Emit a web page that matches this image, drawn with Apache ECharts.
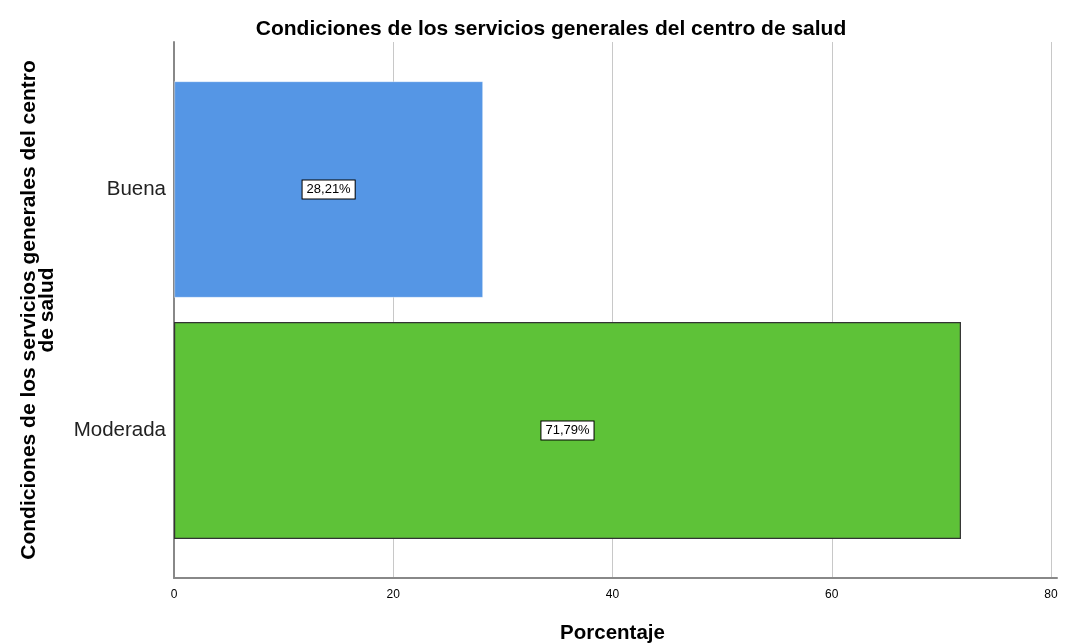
<!DOCTYPE html>
<html><head><meta charset="utf-8">
<script src="https://cdn.jsdelivr.net/npm/echarts@6/dist/echarts.min.js"></script>
<style>html,body{margin:0;padding:0;background:#fff}#c{width:1086px;height:644px}</style>
</head><body><div id="c"></div>
<script>
const categories = ['Buena', 'Moderada'];
const values = [28.21, 71.79];
const barColors = ['#5596e5', '#5ec238'];
const xTicks = [0, 20, 40, 60, 80];

const chart = echarts.init(document.getElementById('c'));
const font = 'Liberation Sans, Arial, sans-serif';
chart.setOption({
  animation: false,
  title: {
    text: 'Condiciones de los servicios generales del centro de salud',
    left: 546, top: 14, textAlign: 'center',
    textStyle: {fontFamily: font, fontSize: 21, fontWeight: 'bold', color: '#000'}
  },
  grid: [
    {left: 174, right: 29, top: 42, bottom: 66, outerBoundsMode: 'none', containLabel: false},
    {left: 174, right: 29, top: 69, bottom: 93, outerBoundsMode: 'none', containLabel: false},
    {left: 174, right: 35, top: 42, bottom: 66, outerBoundsMode: 'none', containLabel: false}
  ],
  xAxis: [
    {gridIndex: 0, type: 'value', min: 0, max: 80.55,
     axisLine: {show: true, lineStyle: {color: '#888', width: 2}},
     axisTick: {show: false}, splitLine: {show: false}, axisLabel: {show: false}},
    {gridIndex: 1, type: 'value', min: 0, max: 80.55, show: false},
    {gridIndex: 2, type: 'value', min: 0, max: 80, interval: 20,
     axisLine: {show: false}, axisTick: {show: false},
     splitLine: {show: true, lineStyle: {color: '#c8c8c8', width: 1}},
     axisLabel: {fontFamily: font, fontSize: 12, color: '#000', margin: 11,
       formatter: v => xTicks.includes(v) ? String(v) : ''},
     name: 'Porcentaje', nameLocation: 'middle', nameGap: 45,
     nameTextStyle: {fontFamily: font, fontSize: 20.5, fontWeight: 'bold', color: '#000'}}
  ],
  yAxis: [
    {gridIndex: 0, type: 'category', data: [''],
     axisLine: {show: true, lineStyle: {color: '#888', width: 2}},
     axisTick: {show: false}, axisLabel: {show: false},
     name: 'Condiciones de los servicios generales del centro\nde salud',
     nameLocation: 'middle', nameGap: 118, nameRotate: 90,
     nameTextStyle: {fontFamily: font, fontSize: 21, fontWeight: 'bold', color: '#000', lineHeight: 18, align: 'center'}},
    {gridIndex: 1, type: 'category', data: categories, inverse: true,
     axisLine: {show: false}, axisTick: {show: false},
     axisLabel: {fontFamily: font, fontSize: 20.5, color: '#222', margin: 8}},
    {gridIndex: 2, type: 'category', data: [''], show: false}
  ],
  series: [{
    type: 'bar', xAxisIndex: 1, yAxisIndex: 1,
    barWidth: '90%',
    data: values.map((v, i) => ({
      value: v,
      itemStyle: {color: barColors[i], borderColor: i === 1 ? '#333' : 'rgba(255,255,255,0.3)', borderWidth: 1.2}
    })),
    label: {
      show: true, position: 'inside',
      formatter: p => p.value.toFixed(2).replace('.', ',') + '%',
      fontFamily: font, fontSize: 13, color: '#000',
      backgroundColor: '#fff', borderColor: '#000', borderWidth: 1,
      padding: [3, 4, 2, 4]
    }
  }]
});
</script></body></html>
